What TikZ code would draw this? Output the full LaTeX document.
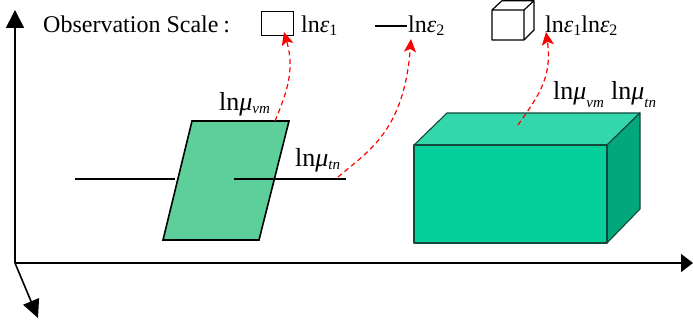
\documentclass[tikz,border=0pt]{standalone}
\usepackage{fontspec}
\setmainfont{Liberation Serif}
\usetikzlibrary{arrows.meta}
\definecolor{plate}{HTML}{5DCF9B}
\definecolor{boxfront}{HTML}{05CF9B}
\definecolor{boxtop}{HTML}{34D6AC}
\definecolor{boxside}{HTML}{02A87C}
\definecolor{boxedge}{HTML}{14483C}
\newcommand{\eps}[1]{ln\textit{ε}\raisebox{-3pt}{\fontsize{16}{16}\selectfont #1}}
\newcommand{\muu}[2]{ln\textit{μ}\raisebox{#2}{\fontsize{15}{15}\selectfont\textit{#1}}}
\tikzset{
 axis/.style={line width=1.6pt},
 rule/.style={line width=1.6pt},
 outline/.style={draw=black,line width=1.6pt},
 edgeline/.style={draw=boxedge,line width=1.1pt,line join=round},
 flow/.style={red,line width=1.2pt,dash pattern=on 5pt off 3.5pt,-{Stealth[length=13pt,width=12pt,inset=3pt]}},
 label/.style={anchor=base west,inner sep=0pt,font=\fontsize{24}{24}\selectfont},
 biglabel/.style={label,font=\fontsize{26}{26}\selectfont},
}
\begin{document}
\begin{tikzpicture}[x=1pt,y=-1pt]
\useasboundingbox (0,0) rectangle (693,328);
\coordinate (o) at (15,263);
\coordinate (up) at (15,10);
\coordinate (right) at (693,263);
\coordinate (down) at (38,318);
\draw[axis,-{Triangle[length=18pt,width=18pt]}] (o) -- (up);
\draw[axis,-{Triangle[length=12pt,width=18pt]}] (o) -- (right);
\draw[axis,-{Triangle[length=18pt,width=17pt]}] (o) -- (down);
% plate
\draw[outline,fill=plate,line join=miter] (192,121) -- (289,121) -- (259,240) -- (163,240) -- cycle;
\coordinate (la) at (75,179); \coordinate (lb) at (175,179);
\coordinate (lc) at (234,179); \coordinate (ld) at (346,179);
\draw[rule] (la) -- (lb);
\draw[rule] (lc) -- (ld);
% box
\fill[boxtop,edgeline] (414,145) -- (447,113) -- (640,113) -- (607,145) -- cycle;
\fill[boxside,edgeline] (607,145) -- (640,113) -- (640,209) -- (607,243) -- cycle;
\fill[boxfront,edgeline] (414,145) rectangle (607,243);
% legend
\node[label] (title) at (43,33) {Observation Scale\kern5pt:};
\node[draw=black,line width=1pt,minimum width=32pt,minimum height=24pt,inner sep=0pt] (sq) at (277,24) {};
\node[label] (e1) at (301,33) {\eps{1}};
\coordinate (da) at (375,26); \coordinate (db) at (407,26);
\draw[rule] (da) -- (db);
\node[label] (e2) at (408,33) {\eps{2}};
\draw[black,line width=1.2pt,line join=round] (492,10) rectangle (524,40)
  (492,10) -- (502,0.7) -- (534,0.7) -- (524,10) (534,0.7) -- (534,30) -- (524,40);
\node[label] (e3) at (545,33) {\eps{1}\eps{2}};
% labels
\node[biglabel] (m1) at (219,111) {\muu{vm}{-3pt}};
\node[biglabel] (m2) at (295,167) {\muu{tn}{-3pt}};
\node[biglabel] (m3) at (553,100) {\muu{vm}{-8pt}};
\node[biglabel] (m4) at (611,100) {\muu{tn}{-8pt}};
% red arrows
\coordinate (s1) at (275,121); \coordinate (t1) at (284,32);
\coordinate (s2) at (338,177); \coordinate (t2) at (411,39);
\coordinate (s3) at (518,125); \coordinate (t3) at (546,32);
\draw[flow] (s1) .. controls (287,92) and (295,70) .. (t1);
\draw[flow] (s2) .. controls (370,150) and (404,130) .. (t2);
\draw[flow] (s3) .. controls (535,100) and (553,80) .. (t3);
\end{tikzpicture}
\end{document}
